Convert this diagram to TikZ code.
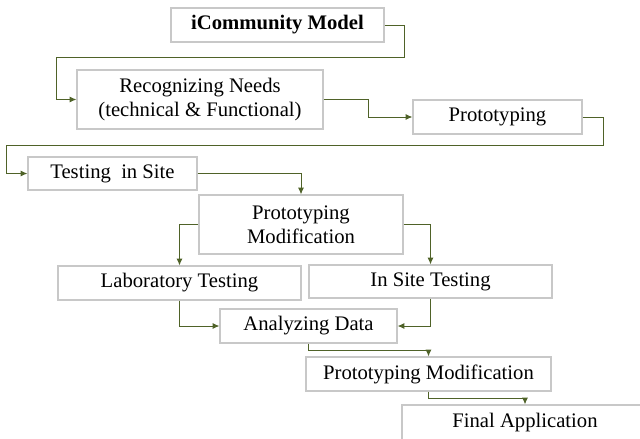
\documentclass[tikz,border=0pt]{standalone}
\usepackage{fontspec}
\setmainfont{Liberation Serif}
\usetikzlibrary{arrows.meta,calc}
\definecolor{boxgray}{RGB}{200,200,200}
\definecolor{linkgreen}{RGB}{79,98,40}
\begin{document}
\begin{tikzpicture}[x=0.75pt, y=-0.75pt,
    >={Latex[length=5pt,width=4.5pt]},
    stage/.style={draw=boxgray, line width=0.9pt, rectangle, inner sep=0pt,
      align=center, font=\fontsize{15.5}{18}\selectfont},
    link/.style={->, draw=linkgreen, line width=0.75pt}]

  \useasboundingbox (0,0) rectangle (640,439);
  \clip (0,0) rectangle (640,439);

  \node[stage, minimum width=159.75pt, minimum height=25.5pt] (model) at (277.5,25) {\textbf{iCommunity Model}};
  \node[stage, minimum width=184.5pt, minimum height=44.25pt] (needs) at (200,99.5) {Recognizing Needs\\(technical \& Functional)};
  \node[stage, minimum width=126.75pt, minimum height=25.5pt] (proto) at (497.5,117) {Prototyping};
  \node[stage, minimum width=126.75pt, minimum height=24.75pt] (site) at (112.5,173.5) {Testing\ \ in Site};
  \node[stage, minimum width=153pt, minimum height=44.25pt] (mod) at (301,224.5) {Prototyping\\Modification};
  \node[stage, minimum width=182.25pt, minimum height=25.5pt] (lab) at (179.5,283) {Laboratory Testing};
  \node[stage, minimum width=182.25pt, minimum height=24.75pt] (insite) at (430.5,281.5) {In Site Testing};
  \node[stage, minimum width=132.75pt, minimum height=25.5pt] (data) at (308.5,326) {Analyzing Data};
  \node[stage, minimum width=183.75pt, minimum height=25.5pt] (mod2) at (428.5,374) {Prototyping Modification};
  \node[stage, minimum width=184.5pt, minimum height=27pt] (final) at (525,423) {Final Application};

  \draw[link] (model.east) -- ++(20,0) -- ++(0,32) -| ($(needs.west)+(-20,0)$) -- (needs.west);
  \draw[link] (needs.east) -- ++(45,0) |- (proto.west);
  \draw[link] (proto.east) -- ++(21,0) -- ++(0,28) -| ($(site.west)+(-21,0)$) -- (site.west);
  \draw[link] (site.east) -| (mod.north);
  \draw[link] (mod.west) -| (lab.north);
  \draw[link] (mod.east) -| (insite.north);
  \draw[link] (lab.south) |- (data.west);
  \draw[link] (insite.south) |- (data.east);
  \draw[link] (data.south) -- ++(0,7) -| (mod2.north);
  \draw[link] (mod2.south) -- ++(0,7) -| (final.north);
\end{tikzpicture}
\end{document}
